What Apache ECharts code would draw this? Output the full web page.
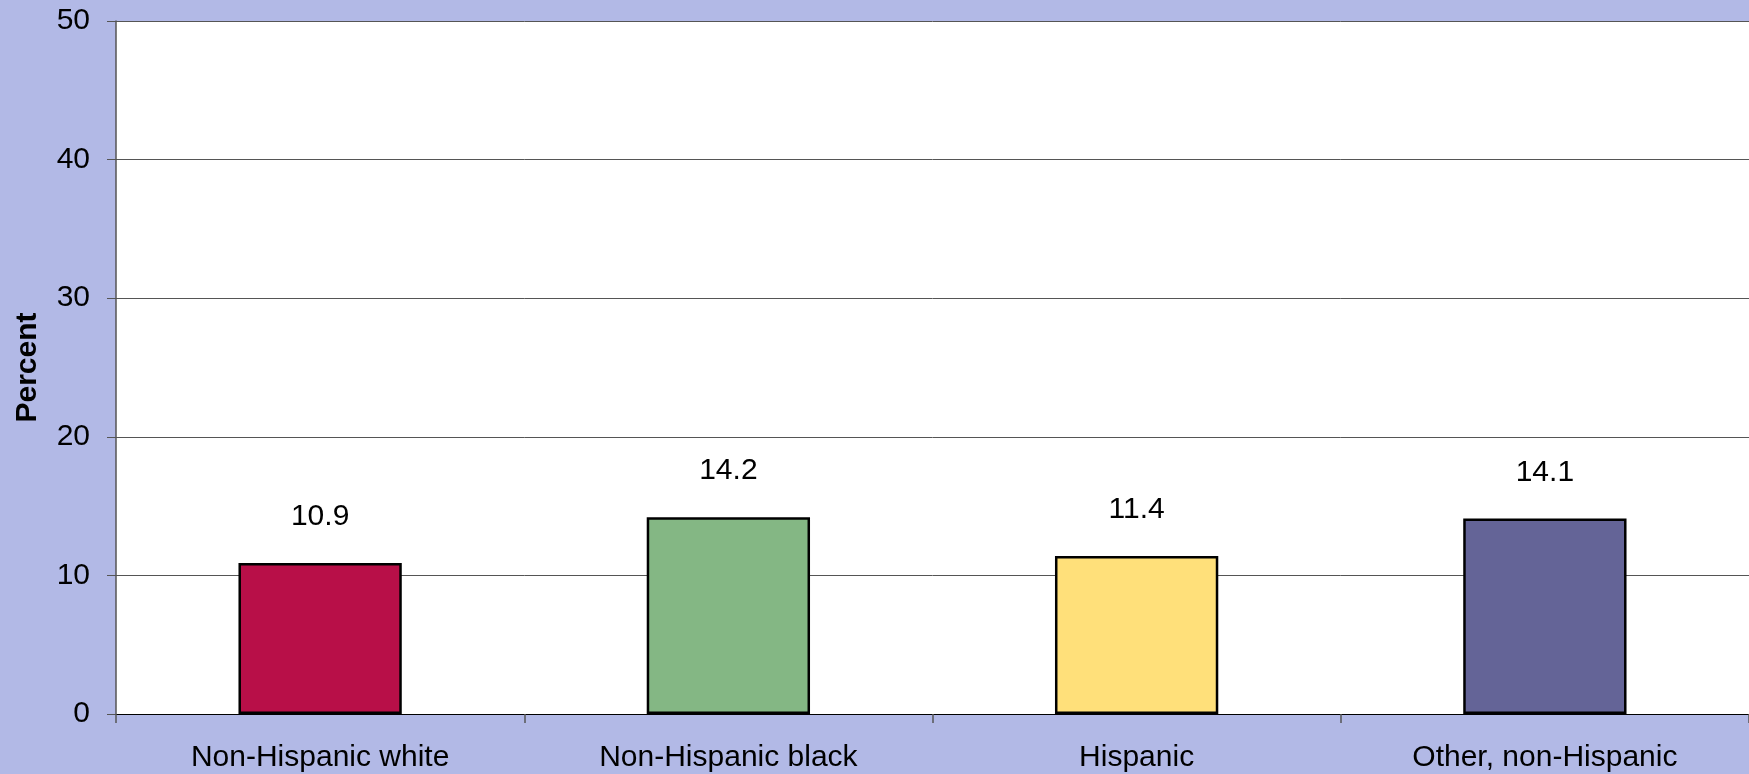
<!DOCTYPE html>
<html lang="en">
<head>
    <meta charset="UTF-8">
    <title>Percent by race and ethnicity</title>
    <style>
        * { margin: 0; padding: 0; box-sizing: border-box; }
        html, body { width: 100%; height: 100%; background: #b2b9e6; }
        #chart { width: 1749px; height: 774px; }
    </style>
</head>
<body>
    <div id="chart"></div>

    <script src="https://cdn.jsdelivr.net/npm/echarts@6/dist/echarts.min.js"></script>
    <script>
    const categories = ['Non-Hispanic white', 'Non-Hispanic black', 'Hispanic', 'Other, non-Hispanic'];
    const percentValues = [10.9, 14.2, 11.4, 14.1];
    const barColors = ['#b80f48', '#84b784', '#ffe07a', '#646497'];
    const yTicks = { min: 0, max: 50, interval: 10 };

    (() => {
        const chart = echarts.init(document.getElementById('chart'));
        const font = '"Liberation Sans", Arial, sans-serif';

        chart.setOption({
            animation: false,
            backgroundColor: '#b2b9e6',
            grid: {
                left: 116, top: 21, right: 0, bottom: 60,
                show: true,
                backgroundColor: '#ffffff',
                borderWidth: 0
            },
            xAxis: {
                type: 'category',
                data: categories,
                boundaryGap: true,
                axisLine: { lineStyle: { color: '#000000', width: 1 } },
                axisTick: { show: true, length: 9, lineStyle: { color: '#555555', width: 1.5 } },
                axisLabel: {
                    color: '#000000', fontFamily: font, fontSize: 30, margin: 29
                }
            },
            yAxis: {
                type: 'value',
                min: yTicks.min, max: yTicks.max, interval: yTicks.interval,
                name: 'Percent',
                nameLocation: 'middle',
                nameRotate: 90,
                nameGap: 73,
                nameTextStyle: { color: '#000000', fontFamily: font, fontSize: 30, fontWeight: 'bold' },
                axisLine: { show: true, lineStyle: { color: '#555555', width: 1.5 } },
                axisTick: { show: true, length: 9, lineStyle: { color: '#555555', width: 1 } },
                axisLabel: { color: '#000000', fontFamily: font, fontSize: 30, margin: 26 },
                splitLine: { show: true, lineStyle: { color: '#555555', width: 1 } }
            },
            series: [{
                type: 'bar',
                barWidth: '40%',
                data: percentValues.map((v, i) => ({
                    value: v,
                    itemStyle: { color: barColors[i] }
                })),
                itemStyle: { borderColor: '#000000', borderWidth: 2.5 },
                label: {
                    show: true,
                    position: 'top',
                    distance: 31,
                    color: '#000000',
                    fontFamily: font,
                    fontSize: 30,
                    formatter: (p) => p.value.toFixed(1)
                }
            }]
        });

        window.addEventListener('resize', () => chart.resize());
    })();
    </script>
</body>
</html>
